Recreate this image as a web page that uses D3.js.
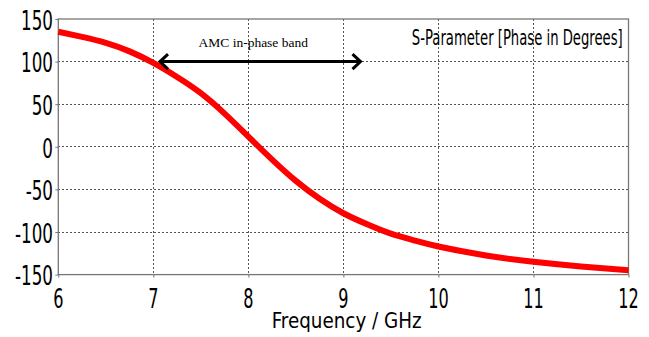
<!DOCTYPE html>
<html><head><meta charset="utf-8">
<script src="https://cdn.jsdelivr.net/npm/d3@7"></script>
<style>
html,body{margin:0;padding:0;background:#fff;}
svg{display:block;}
</style></head>
<body>
<svg id="chart" width="649" height="337"></svg>
<script>
// Data
const freq = [6, 6.25, 6.5, 6.75, 7, 7.25, 7.5, 7.75, 8, 8.25, 8.5, 8.75, 9, 9.25, 9.5, 9.75, 10, 10.5, 11, 11.5, 12];
const phase = [135, 129, 122, 112, 98.5, 82, 63, 39, 12, -15, -40, -61, -78, -91, -102, -110, -117, -127.5, -135, -140.5, -145];
const xTicks = [6, 7, 8, 9, 10, 11, 12];
const yTicks = [150, 100, 50, 0, -50, -100, -150];
const bandStart = 7.07, bandEnd = 9.18, bandLevel = 100;
const bandLabel = "AMC in-phase band";
const titleText = "S-Parameter [Phase in Degrees]";
const xTitle = "Frequency / GHz";

const svg = d3.select("#chart");
const L = 58.3, R = 628.5, T = 19, B = 274.6;
const x = d3.scaleLinear().domain([6, 12]).range([L, R]);
const y = d3.scaleLinear().domain([-150, 150]).range([B, T]);
const axisFont = "'DejaVu Sans Condensed','DejaVu Sans',sans-serif";

function squeeze(sel, s) {
  sel.each(function(){
    const t = d3.select(this);
    const ax = +t.attr("x"), ay = +t.attr("y");
    t.attr("transform", `translate(${ax},${ay}) scale(${s},1) translate(${-ax},${-ay})`);
  });
}
function fitText(sel, targetW) {
  sel.each(function(){
    const w = this.getComputedTextLength();
    squeeze(d3.select(this), targetW / w);
  });
}

// grid
svg.append("g").selectAll("line").data(yTicks.filter(v => v > -150 && v < 150)).join("line")
  .attr("x1", L).attr("x2", R).attr("y1", d => y(d)).attr("y2", d => y(d))
  .attr("stroke", "#555").attr("stroke-width", 1).attr("stroke-dasharray", "2,2")
  .attr("shape-rendering", "crispEdges");
svg.append("g").selectAll("line").data(xTicks.filter(v => v > 6 && v < 12)).join("line")
  .attr("y1", T).attr("y2", B).attr("x1", d => x(d)).attr("x2", d => x(d))
  .attr("stroke", "#555").attr("stroke-width", 1).attr("stroke-dasharray", "2,2")
  .attr("shape-rendering", "crispEdges");

// frame
svg.append("rect").attr("x", L).attr("y", T).attr("width", R - L).attr("height", B - T)
  .attr("fill", "none").attr("stroke", "#777").attr("stroke-width", 1.3);

// axes (ticks only)
const xAxis = svg.append("g").attr("transform", `translate(0,${B})`)
  .call(d3.axisBottom(x).tickValues(xTicks).tickSize(3).tickFormat(""));
xAxis.select(".domain").remove();
xAxis.selectAll("line").attr("stroke", "#777");
const yAxis = svg.append("g").attr("transform", `translate(${L},0)`)
  .call(d3.axisLeft(y).tickValues(yTicks).tickSize(3).tickFormat(""));
yAxis.select(".domain").remove();
yAxis.selectAll("line").attr("stroke", "#777");

// tick labels
const yl = svg.append("g").selectAll("text").data(yTicks).join("text")
  .attr("x", 53).attr("y", d => y(d) + 10.8)
  .attr("text-anchor", "end").attr("font-family", axisFont).attr("font-size", 27)
  .attr("fill", "#000").text(d => d);
squeeze(yl, 0.69);
const xl = svg.append("g").selectAll("text").data(xTicks).join("text")
  .attr("x", d => x(d)).attr("y", 308.5)
  .attr("text-anchor", "middle").attr("font-family", axisFont).attr("font-size", 26)
  .attr("fill", "#000").text(d => d);
squeeze(xl, 0.69);

// axis title
const xt = svg.append("text").attr("x", 346.7).attr("y", 328)
  .attr("text-anchor", "middle").attr("font-family", axisFont).attr("font-size", 22)
  .attr("fill", "#000").text(xTitle);
fitText(xt, 150);

// chart title
const tt = svg.append("text").attr("x", 622.7).attr("y", 45.5)
  .attr("text-anchor", "end").attr("font-family", axisFont).attr("font-size", 21.5)
  .attr("fill", "#000").text(titleText);
fitText(tt, 211);

// curve
const line = d3.line().x((d, i) => x(freq[i])).y(d => y(d)).curve(d3.curveNatural);
svg.append("path").datum(phase).attr("d", line)
  .attr("fill", "none").attr("stroke", "#ff0000").attr("stroke-width", 6)
  .attr("stroke-linecap", "butt");

// band arrow
const ax1 = x(bandStart), ax2 = x(bandEnd), ay0 = y(bandLevel);
const ag = svg.append("g").attr("stroke", "#000").attr("stroke-width", 3).attr("fill", "none");
ag.append("line").attr("x1", ax1 + 1).attr("x2", ax2 - 1).attr("y1", ay0).attr("y2", ay0);
ag.append("path").attr("d", `M${ax1 + 8},${ay0 - 7.5} L${ax1},${ay0} L${ax1 + 8},${ay0 + 7.5}`)
  .attr("stroke-linejoin", "miter");
ag.append("path").attr("d", `M${ax2 - 8},${ay0 - 7.5} L${ax2},${ay0} L${ax2 - 8},${ay0 + 7.5}`)
  .attr("stroke-linejoin", "miter");
svg.append("text").attr("x", (ax1 + ax2) / 2 - 7).attr("y", 47)
  .attr("text-anchor", "middle").attr("font-family", "'Liberation Serif','Times New Roman',serif")
  .attr("font-size", 13.5).attr("fill", "#000").text(bandLabel);
</script>
</body></html>
